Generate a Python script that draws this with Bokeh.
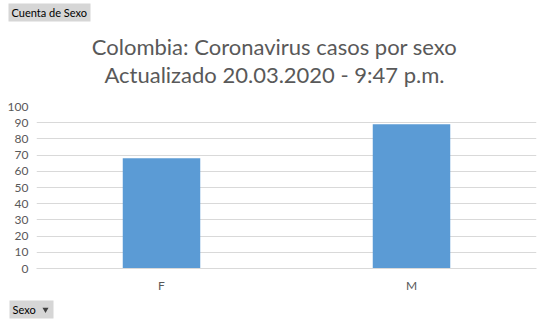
from bokeh.plotting import figure
from bokeh.models import Range1d, FactorRange
from bokeh.layouts import column
from bokeh.core.properties import value
from bokeh.embed import file_html
from bokeh.resources import INLINE

categories = ["F", "M"]
counts = [68, 89]
y_ticks = [0, 10, 20, 30, 40, 50, 60, 70, 80, 90, 100]
title_lines = ["Colombia: Coronavirus casos por sexo", "Actualizado 20.03.2020 - 9:47 p.m."]
field_button = "Cuenta de Sexo"
axis_button = "Sexo"

W = 541
TOP_H, MAIN_H, BOT_H = 100, 196, 25
FONT = "Lato"
GREY_TXT = "#595959"
BTN = "#d6d6d6"


def blank(h):
    f = figure(width=W, height=h, x_range=Range1d(0, W), y_range=Range1d(h, 0),
               x_axis_type=None, y_axis_type=None, output_backend="svg",
               toolbar_location=None, min_border=0, frame_align=False)
    f.outline_line_color = None
    f.grid.grid_line_color = None
    return f


# --- header: field button + two-line title ---
top = blank(TOP_H)
top.quad(left=[8], right=[90], top=[3], bottom=[21], fill_color=BTN, line_color=None)
top.text(x=[11], y=[12], text=[field_button], text_font=value(FONT), text_font_size="11px",
         text_color="#000000", text_baseline="middle", text_align="left")
top.text(x=[274, 274], y=[46, 74], text=title_lines, text_font=value(FONT),
         text_font_size="22px", text_color=GREY_TXT, text_baseline="middle",
         text_align="center")

# --- main chart ---
p = figure(width=W, height=MAIN_H, x_range=FactorRange(*categories), y_range=Range1d(0, 100),
           output_backend="svg", toolbar_location=None, frame_align=False,
           min_border_left=36, min_border_right=5, min_border_top=6, min_border_bottom=28)
p.outline_line_color = None
p.vbar(x=categories, top=counts, width=0.31, fill_color="#5b9bd5", line_color=None)

p.xgrid.grid_line_color = None
p.ygrid.grid_line_color = "#d9d9d9"
p.yaxis.ticker = y_ticks
p.yaxis.axis_line_color = None
p.yaxis.major_tick_line_color = None
p.yaxis.minor_tick_line_color = None
p.yaxis.major_tick_out = 0
p.yaxis.major_tick_in = 0
p.yaxis.major_label_text_font = FONT
p.yaxis.major_label_text_font_size = "12px"
p.yaxis.major_label_text_color = GREY_TXT
p.yaxis.major_label_standoff = 8
p.xaxis.axis_line_color = "#d9d9d9"
p.xaxis.major_tick_line_color = None
p.xaxis.minor_tick_line_color = None
p.xaxis.major_tick_out = 0
p.xaxis.major_tick_in = 0
p.xaxis.major_label_text_font = FONT
p.xaxis.major_label_text_font_size = "12px"
p.xaxis.major_label_text_color = GREY_TXT
p.xaxis.major_label_standoff = 9

# --- footer: axis field button ---
bot = blank(BOT_H)
bot.quad(left=[9], right=[53], top=[4], bottom=[22], fill_color=BTN, line_color=None)
bot.text(x=[12], y=[13], text=[axis_button], text_font=value(FONT), text_font_size="11px",
         text_color="#000000", text_baseline="middle", text_align="left")
bot.scatter(x=[45], y=[13], marker="inverted_triangle", size=6, fill_color="#404040",
            line_color=None)

layout = column(top, p, bot, spacing=0)
open("out.html", "w").write(file_html(layout, INLINE))
